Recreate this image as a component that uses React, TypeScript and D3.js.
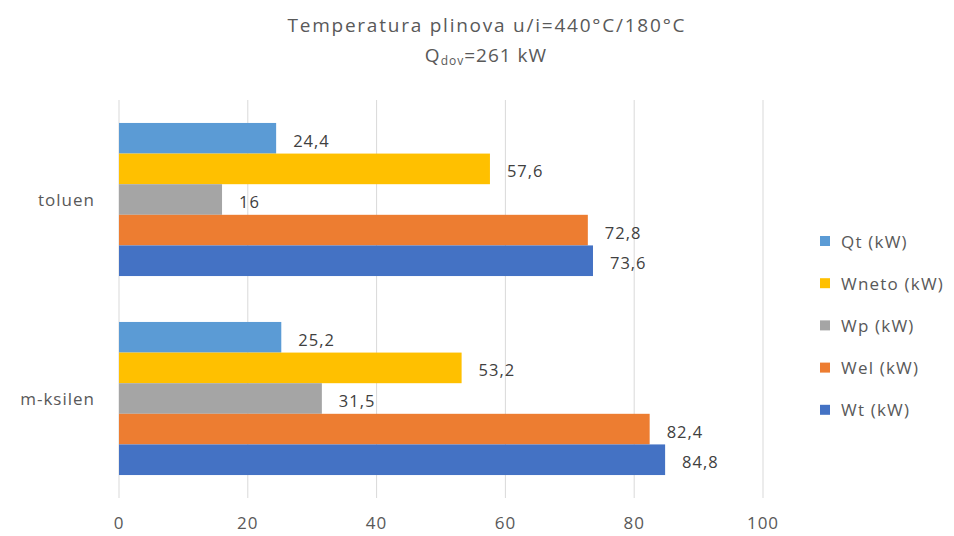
import React, { useRef, useEffect } from 'react';
import * as d3 from 'd3';

const categories = ['toluen', 'm-ksilen'];
const seriesNames = ['Qt (kW)', 'Wneto (kW)', 'Wp (kW)', 'Wel (kW)', 'Wt (kW)'];
const seriesColors = ['#5B9BD5', '#FFC000', '#A5A5A5', '#ED7D31', '#4472C4'];
// values per series, in category order [toluen, m-ksilen]
const qtValues = [24.4, 25.2];
const wnetoValues = [57.6, 53.2];
const wpValues = [16, 31.5];
const welValues = [72.8, 82.4];
const wtValues = [73.6, 84.8];
const xTicks = [0, 20, 40, 60, 80, 100];

const FONT = '"Open Sans", sans-serif';

const App: React.FC = () => {
  const svgRef = useRef<SVGSVGElement>(null);

  useEffect(() => {
    if (!svgRef.current) return;
    const svg = d3.select(svgRef.current);
    svg.selectAll('*').remove();

    const width = 954;
    const height = 536;
    const left = 119, right = 763, top = 100, bottom = 498;

    svg.attr('width', width).attr('height', height).style('background', '#fff');

    const allValues = [qtValues, wnetoValues, wpValues, welValues, wtValues];

    const x = d3.scaleLinear().domain([0, 100]).range([left, right]);
    const y = d3.scaleBand<string>().domain(categories).range([top, bottom]);
    const ySub = d3.scaleBand<string>()
      .domain(seriesNames)
      .range([0, y.bandwidth()])
      .paddingInner(0)
      .paddingOuter(0.75);

    // gridlines
    svg.append('g')
      .selectAll('line')
      .data(xTicks)
      .enter().append('line')
      .attr('x1', d => x(d)).attr('x2', d => x(d))
      .attr('y1', top).attr('y2', bottom)
      .attr('stroke', '#D9D9D9')
      .attr('stroke-width', 1);

    // x tick labels
    svg.append('g')
      .selectAll('text')
      .data(xTicks)
      .enter().append('text')
      .attr('x', d => x(d))
      .attr('y', 522)
      .attr('text-anchor', 'middle')
      .attr('dominant-baseline', 'central')
      .style('font-family', FONT)
      .style('font-size', '17px')
      .style('letter-spacing', '1px')
      .style('fill', '#595959')
      .text(d => d);

    // category labels
    svg.append('g')
      .selectAll('text')
      .data(categories)
      .enter().append('text')
      .attr('x', 95)
      .attr('y', d => (y(d) as number) + y.bandwidth() / 2)
      .attr('text-anchor', 'end')
      .attr('dominant-baseline', 'central')
      .style('font-family', FONT)
      .style('font-size', '17px')
      .style('letter-spacing', '1px')
      .style('fill', '#595959')
      .text(d => d);

    const rows = categories.flatMap((c, ci) =>
      seriesNames.map((s, si) => ({ cat: c, series: s, si, value: allValues[si][ci] }))
    );

    const bars = svg.append('g');
    bars.selectAll('rect')
      .data(rows)
      .enter().append('rect')
      .attr('x', x(0))
      .attr('y', d => (y(d.cat) as number) + (ySub(d.series) as number))
      .attr('width', d => x(d.value) - x(0))
      .attr('height', ySub.bandwidth())
      .attr('fill', d => seriesColors[d.si]);

    bars.selectAll('text')
      .data(rows)
      .enter().append('text')
      .attr('x', d => x(d.value) + 17)
      .attr('y', d => (y(d.cat) as number) + (ySub(d.series) as number) + ySub.bandwidth() / 2 + 2)
      .attr('dominant-baseline', 'central')
      .style('font-family', FONT)
      .style('font-size', '16.5px')
      .style('letter-spacing', '1px')
      .style('fill', '#404040')
      .text(d => String(d.value).replace('.', ','));

    // legend
    const legend = svg.append('g')
      .selectAll('g')
      .data(seriesNames)
      .enter().append('g')
      .attr('transform', (d, i) => `translate(820, ${241 + i * 42.2})`);
    legend.append('rect')
      .attr('x', 0).attr('y', -5)
      .attr('width', 10).attr('height', 10)
      .attr('fill', (d, i) => seriesColors[i]);
    legend.append('text')
      .attr('x', 21)
      .attr('y', 0)
      .attr('dominant-baseline', 'central')
      .style('font-family', FONT)
      .style('font-size', '17px')
      .style('letter-spacing', '1.2px')
      .style('fill', '#595959')
      .text(d => d);

    // title
    const title = svg.append('g')
      .style('font-family', FONT)
      .style('fill', '#595959')
      .attr('text-anchor', 'middle');
    title.append('text')
      .attr('x', 486).attr('y', 25)
      .attr('dominant-baseline', 'central')
      .attr('textLength', 397)
      .attr('lengthAdjust', 'spacing')
      .style('font-size', '19px')
      .text('Temperatura plinova u/i=440°C/180°C');
    const t2 = title.append('text')
      .attr('x', 486).attr('y', 55)
      .attr('dominant-baseline', 'central')
      .style('font-size', '19px')
      .style('letter-spacing', '1px');
    t2.append('tspan').text('Q');
    t2.append('tspan').attr('dy', 5).style('font-size', '12px').text('dov');
    t2.append('tspan').attr('dy', -5).text('=261 kW');
  }, []);

  return <svg ref={svgRef} style={{ position: 'absolute', left: 0, top: 0 }}></svg>;
};

export default App;
